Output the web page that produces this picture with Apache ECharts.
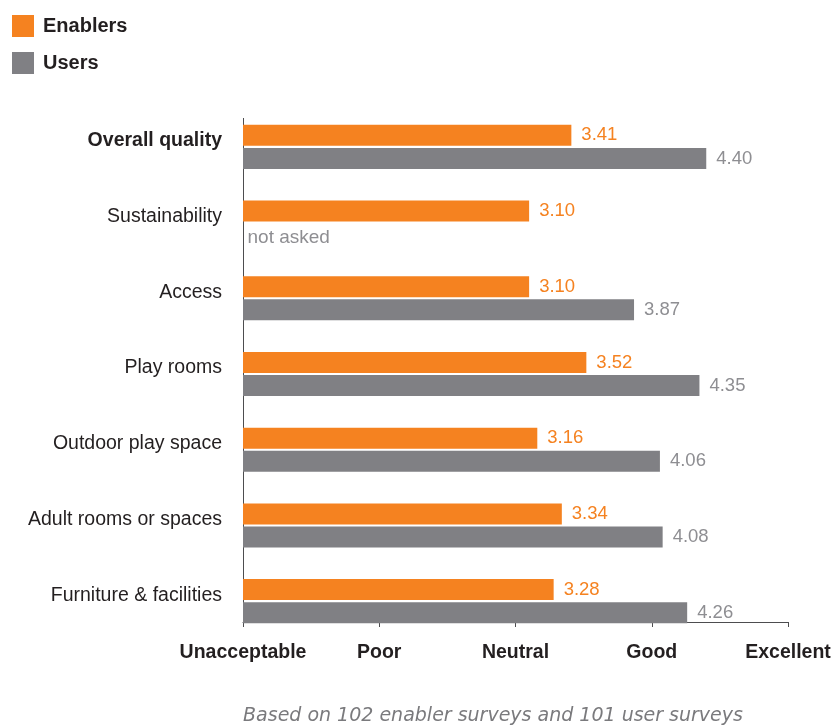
<!DOCTYPE html>
<html>
<head>
<meta charset="utf-8">
<script src="https://cdn.jsdelivr.net/npm/echarts@6/dist/echarts.min.js"></script>
<style>
  html, body { margin: 0; padding: 0; background: #ffffff; }
  #chart { width: 835px; height: 726px; }
</style>
</head>
<body>
<div id="chart"></div>
<script>
// Survey ratings (1 = Unacceptable ... 5 = Excellent)
const categories = [
  'Overall quality',
  'Sustainability',
  'Access',
  'Play rooms',
  'Outdoor play space',
  'Adult rooms or spaces',
  'Furniture & facilities'
];
const enablers = [3.41, 3.10, 3.10, 3.52, 3.16, 3.34, 3.28];
const users = [4.40, null, 3.87, 4.35, 4.06, 4.08, 4.26];
const ratingLabels = ['Unacceptable', 'Poor', 'Neutral', 'Good', 'Excellent'];
const seriesNames = ['Enablers', 'Users'];
const notAskedCategory = 'Sustainability';
const notAskedText = 'not asked';
const footnote = 'Based on 102 enabler surveys and 101 user surveys';

const FONT = '"Liberation Sans", Arial, Helvetica, sans-serif';
const NOTE_FONT = '"DejaVu Sans", "Liberation Sans", sans-serif';
const ORANGE = '#f58220';
const GREY = '#808084';
const LABEL_GREY = '#8e8e92';
const INK = '#231f20';
const AXIS = '#4d4d4f';

const GRID = { left: 243, right: 47, top: 109, bottom: 87 };
const AXIS_Y = 622;       // where the rating axis line sits
const AXIS_TOP = 118;     // top end of the category axis line

const chart = echarts.init(document.getElementById('chart'), null, { renderer: 'canvas' });

chart.setOption({
  backgroundColor: '#ffffff',
  animation: false,
  textStyle: { fontFamily: FONT },
  legend: {
    data: seriesNames,
    orient: 'vertical',
    left: 12,
    top: 15,
    padding: 0,
    itemWidth: 22,
    itemHeight: 22,
    itemGap: 15,
    icon: 'rect',
    textStyle: {
      fontFamily: FONT,
      fontSize: 20,
      fontWeight: 'bold',
      color: INK,
      padding: [0, 0, 0, 4]
    }
  },
  grid: GRID,
  xAxis: {
    type: 'value',
    min: 1,
    max: 5,
    interval: 1,
    position: 'bottom',
    offset: -(726 - GRID.bottom - AXIS_Y),
    splitLine: { show: false },
    axisLine: { show: true, lineStyle: { color: AXIS, width: 1 } },
    axisTick: { show: true, length: 5, lineStyle: { color: AXIS } },
    axisLabel: {
      margin: 21,
      fontFamily: FONT,
      fontSize: 19.5,
      fontWeight: 'bold',
      color: INK,
      formatter: v => ratingLabels[Math.round(v) - 1] || ''
    }
  },
  yAxis: {
    type: 'category',
    inverse: true,
    data: categories,
    axisLine: { show: false },
    axisTick: { show: false },
    axisLabel: {
      margin: 21,
      fontFamily: FONT,
      fontSize: 19.5,
      color: INK,
      padding: [0, 0, 12, 0],
      formatter: (v, i) => i === 0 ? '{b|' + v + '}' : v,
      rich: {
        b: { fontFamily: FONT, fontSize: 19.5, fontWeight: 'bold', color: INK }
      }
    }
  },
  series: [
    {
      name: seriesNames[0],
      type: 'bar',
      data: enablers,
      barWidth: 21,
      barGap: '10%',
      itemStyle: { color: ORANGE },
      label: {
        show: true,
        position: 'right',
        distance: 10,
        fontFamily: FONT,
        fontSize: 18.5,
        color: ORANGE,
        formatter: p => p.value.toFixed(2)
      }
    },
    {
      name: seriesNames[1],
      type: 'bar',
      data: users,
      barWidth: 21,
      barGap: '10%',
      itemStyle: { color: GREY },
      label: {
        show: true,
        position: 'right',
        distance: 10,
        fontFamily: FONT,
        fontSize: 18.5,
        color: LABEL_GREY,
        formatter: p => (p.value == null ? '' : p.value.toFixed(2))
      },
      markPoint: {
        symbol: 'rect',
        symbolSize: 1,
        itemStyle: { color: 'rgba(0,0,0,0)' },
        data: [{ coord: [1, notAskedCategory] }],
        label: {
          show: true,
          position: 'right',
          distance: 4,
          offset: [0, 4],
          fontFamily: FONT,
          fontSize: 19,
          color: LABEL_GREY,
          formatter: notAskedText
        }
      }
    }
  ],
  graphic: [
    {
      type: 'line',
      silent: true,
      shape: { x1: GRID.left + 0.5, y1: AXIS_TOP, x2: GRID.left + 0.5, y2: AXIS_Y },
      style: { stroke: AXIS, lineWidth: 1 }
    },
    {
      type: 'text',
      silent: true,
      x: 493,
      y: 716,
      style: {
        text: footnote,
        fill: '#7a7a7d',
        font: 'oblique 19px ' + NOTE_FONT,
        textAlign: 'center',
        textVerticalAlign: 'middle'
      }
    }
  ]
});
</script>
</body>
</html>
